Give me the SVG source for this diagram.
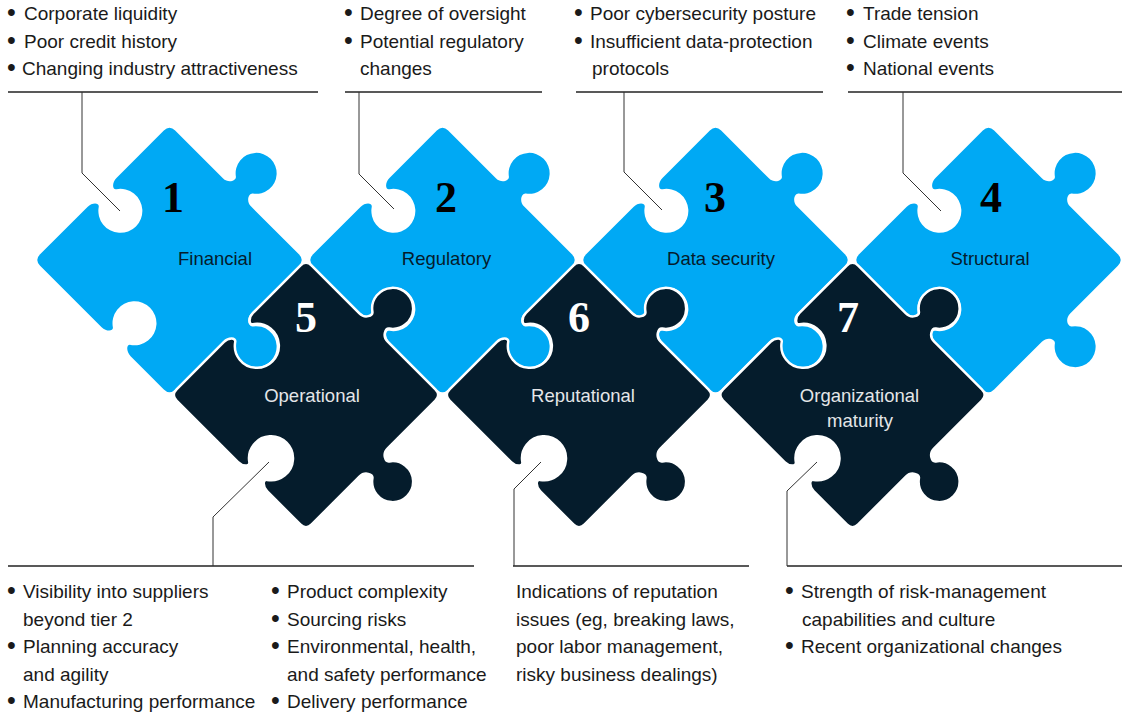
<svg xmlns="http://www.w3.org/2000/svg" xmlns:xlink="http://www.w3.org/1999/xlink" width="1122" height="714" viewBox="0 0 1122 714">
<style>
.bg{fill:#ffffff}
.blue{fill:#00A9F4}
.dark{fill:#051C2C;stroke:#ffffff;stroke-width:2.5}
.note{font-family:"Liberation Sans",Arial,sans-serif;font-size:19px;fill:#1a1a1a}
.bul{font-family:"Liberation Sans",Arial,sans-serif;font-size:25px;fill:#1a1a1a}
.num{font-family:"Liberation Serif","Times New Roman",serif;font-weight:bold;font-size:44px;text-anchor:middle}
.numB{fill:#000000}
.numW{fill:#ffffff}
.lbl{font-family:"Liberation Sans",Arial,sans-serif;font-size:18.5px;text-anchor:middle}
.lblB{fill:#051C2C}
.lblW{fill:#e4e6e8}
.rule{stroke:#222222;stroke-width:1.5;fill:none}
.conn{stroke:#333333;stroke-width:1;fill:none}
</style>
<defs>
<path id="pieceA" d="M -87.5,-95.5 L -20,-95.5 C -12,-95.5 -8.7,-103.5 -12,-105.9 A 20.5 20.5 0 1 1 12,-105.9 C 8.7,-103.5 12,-95.5 20,-95.5 L 87.5,-95.5 Q 95.5,-95.5 95.5,-87.5 L 95.5,-20 C 95.5,-12 103.5,-8.7 105.9,-12 A 20.5 20.5 0 1 1 105.9,12 C 103.5,8.7 95.5,12 95.5,20 L 95.5,87.5 Q 95.5,95.5 87.5,95.5 L 40.5,95.5 C 34,95.5 28.9,90.1 32.5,87.6 A 22 22 0 1 0 7.5,87.6 C 11.1,90.1 6,95.5 -0.5,95.5 L -87.5,95.5 Q -95.5,95.5 -95.5,87.5 L -95.5,20.5 C -95.5,14 -90.1,8.9 -87.6,12.5 A 22 22 0 1 0 -87.6,-12.5 C -90.1,-8.9 -95.5,-14 -95.5,-20.5 L -95.5,-87.5 Q -95.5,-95.5 -87.5,-95.5 Z"/>
<path id="pieceB" d="M -87.5,-95.5 L -20,-95.5 C -12,-95.5 -8.7,-103.5 -12,-105.9 A 20.5 20.5 0 1 1 12,-105.9 C 8.7,-103.5 12,-95.5 20,-95.5 L 87.5,-95.5 Q 95.5,-95.5 95.5,-87.5 L 95.5,-20 C 95.5,-12 103.5,-8.7 105.9,-12 A 20.5 20.5 0 1 1 105.9,12 C 103.5,8.7 95.5,12 95.5,20 L 95.5,87.5 Q 95.5,95.5 87.5,95.5 L 20.5,95.5 C 14,95.5 8.9,90.1 12.5,87.6 A 22 22 0 1 0 -12.5,87.6 C -8.9,90.1 -14,95.5 -20.5,95.5 L -87.5,95.5 Q -95.5,95.5 -95.5,87.5 L -95.5,20.5 C -95.5,14 -90.1,8.9 -87.6,12.5 A 22 22 0 1 0 -87.6,-12.5 C -90.1,-8.9 -95.5,-14 -95.5,-20.5 L -95.5,-87.5 Q -95.5,-95.5 -87.5,-95.5 Z"/>
</defs>
<rect class="bg" x="0" y="0" width="1122" height="714"/>

<g id="piece-1">
<use href="#pieceA" class="blue" transform="translate(169.5,260) rotate(45)"/>
<text class="num numB" x="173" y="212">1</text>
<text class="lbl lblB" x="215" y="265">Financial</text>
</g>
<g id="piece-2">
<use href="#pieceB" class="blue" transform="translate(442.5,260) rotate(45)"/>
<text class="num numB" x="446" y="212">2</text>
<text class="lbl lblB" x="446.5" y="265">Regulatory</text>
</g>
<g id="piece-3">
<use href="#pieceB" class="blue" transform="translate(715.5,260) rotate(45)"/>
<text class="num numB" x="715" y="212">3</text>
<text class="lbl lblB" x="721" y="265">Data security</text>
</g>
<g id="piece-4">
<use href="#pieceB" class="blue" transform="translate(988.5,260) rotate(45)"/>
<text class="num numB" x="991" y="212">4</text>
<text class="lbl lblB" x="990" y="265">Structural</text>
</g>
<g id="piece-5">
<use href="#pieceA" class="dark" transform="translate(306,395) rotate(45)"/>
<text class="num numW" x="306" y="332">5</text>
<text class="lbl lblW" x="312" y="402">Operational</text>
</g>
<g id="piece-6">
<use href="#pieceA" class="dark" transform="translate(579,395) rotate(45)"/>
<text class="num numW" x="579" y="332">6</text>
<text class="lbl lblW" x="583" y="402">Reputational</text>
</g>
<g id="piece-7">
<use href="#pieceA" class="dark" transform="translate(852.5,395) rotate(45)"/>
<text class="num numW" x="848" y="332">7</text>
<text class="lbl lblW" x="859.5" y="402">Organizational</text>
<text class="lbl lblW" x="860" y="427">maturity</text>
</g>

<g id="connectors">
<line class="rule" x1="8" y1="92" x2="318" y2="92"/>
<line class="rule" x1="345" y1="92" x2="542" y2="92"/>
<line class="rule" x1="576" y1="92" x2="823" y2="92"/>
<line class="rule" x1="848" y1="92" x2="1122" y2="92"/>
<polyline class="conn" points="82,92 82,173 120,211"/>
<polyline class="conn" points="359,92 359,174 394,209"/>
<polyline class="conn" points="624,92 624,172 662,210"/>
<polyline class="conn" points="903,92 903,173 941,211"/>
<line class="rule" x1="8" y1="566" x2="474" y2="566"/>
<line class="rule" x1="513" y1="566" x2="749" y2="566"/>
<line class="rule" x1="787" y1="566" x2="1122" y2="566"/>
<polyline class="conn" points="269,462 213,517 213,566"/>
<polyline class="conn" points="541,462 514,489 514,566"/>
<polyline class="conn" points="817,462 787,491 787,566"/>
</g>

<g id="notes-1">
<text class="bul" x="7" y="21">•</text><text class="note" x="24" y="20">Corporate liquidity</text>
<text class="bul" x="7" y="48.5">•</text><text class="note" x="24" y="47.5">Poor credit history</text>
<text class="bul" x="7" y="76">•</text><text class="note" x="22" y="75">Changing industry attractiveness</text>
</g>
<g id="notes-2">
<text class="bul" x="344" y="21">•</text><text class="note" x="360" y="20">Degree of oversight</text>
<text class="bul" x="344" y="48.5">•</text><text class="note" x="360" y="47.5">Potential regulatory</text>
<text class="note" x="360" y="75">changes</text>
</g>
<g id="notes-3">
<text class="bul" x="574" y="21">•</text><text class="note" x="590" y="20">Poor cybersecurity posture</text>
<text class="bul" x="574" y="48.5">•</text><text class="note" x="590" y="47.5">Insufficient data-protection</text>
<text class="note" x="592" y="75">protocols</text>
</g>
<g id="notes-4">
<text class="bul" x="846" y="21">•</text><text class="note" x="863" y="20">Trade tension</text>
<text class="bul" x="846" y="48.5">•</text><text class="note" x="863" y="47.5">Climate events</text>
<text class="bul" x="846" y="76">•</text><text class="note" x="863" y="75">National events</text>
</g>
<g id="notes-5">
<text class="bul" x="7" y="599">•</text><text class="note" x="23" y="598">Visibility into suppliers</text>
<text class="note" x="23" y="625.5">beyond tier 2</text>
<text class="bul" x="7" y="654">•</text><text class="note" x="23" y="653">Planning accuracy</text>
<text class="note" x="23" y="680.5">and agility</text>
<text class="bul" x="7" y="709">•</text><text class="note" x="23" y="708">Manufacturing performance</text>
<text class="bul" x="271" y="599">•</text><text class="note" x="287" y="598">Product complexity</text>
<text class="bul" x="271" y="626.5">•</text><text class="note" x="287" y="625.5">Sourcing risks</text>
<text class="bul" x="271" y="654">•</text><text class="note" x="287" y="653">Environmental, health,</text>
<text class="note" x="287" y="680.5">and safety performance</text>
<text class="bul" x="271" y="709">•</text><text class="note" x="287" y="708">Delivery performance</text>
</g>
<g id="notes-6">
<text class="note" x="516" y="598">Indications of reputation</text>
<text class="note" x="516" y="625.5">issues (eg, breaking laws,</text>
<text class="note" x="516" y="653">poor labor management,</text>
<text class="note" x="516" y="680.5">risky business dealings)</text>
</g>
<g id="notes-7">
<text class="bul" x="785" y="599">•</text><text class="note" x="801" y="598">Strength of risk-management</text>
<text class="note" x="802" y="625.5">capabilities and culture</text>
<text class="bul" x="785" y="654">•</text><text class="note" x="801" y="653">Recent organizational changes</text>
</g>
</svg>
